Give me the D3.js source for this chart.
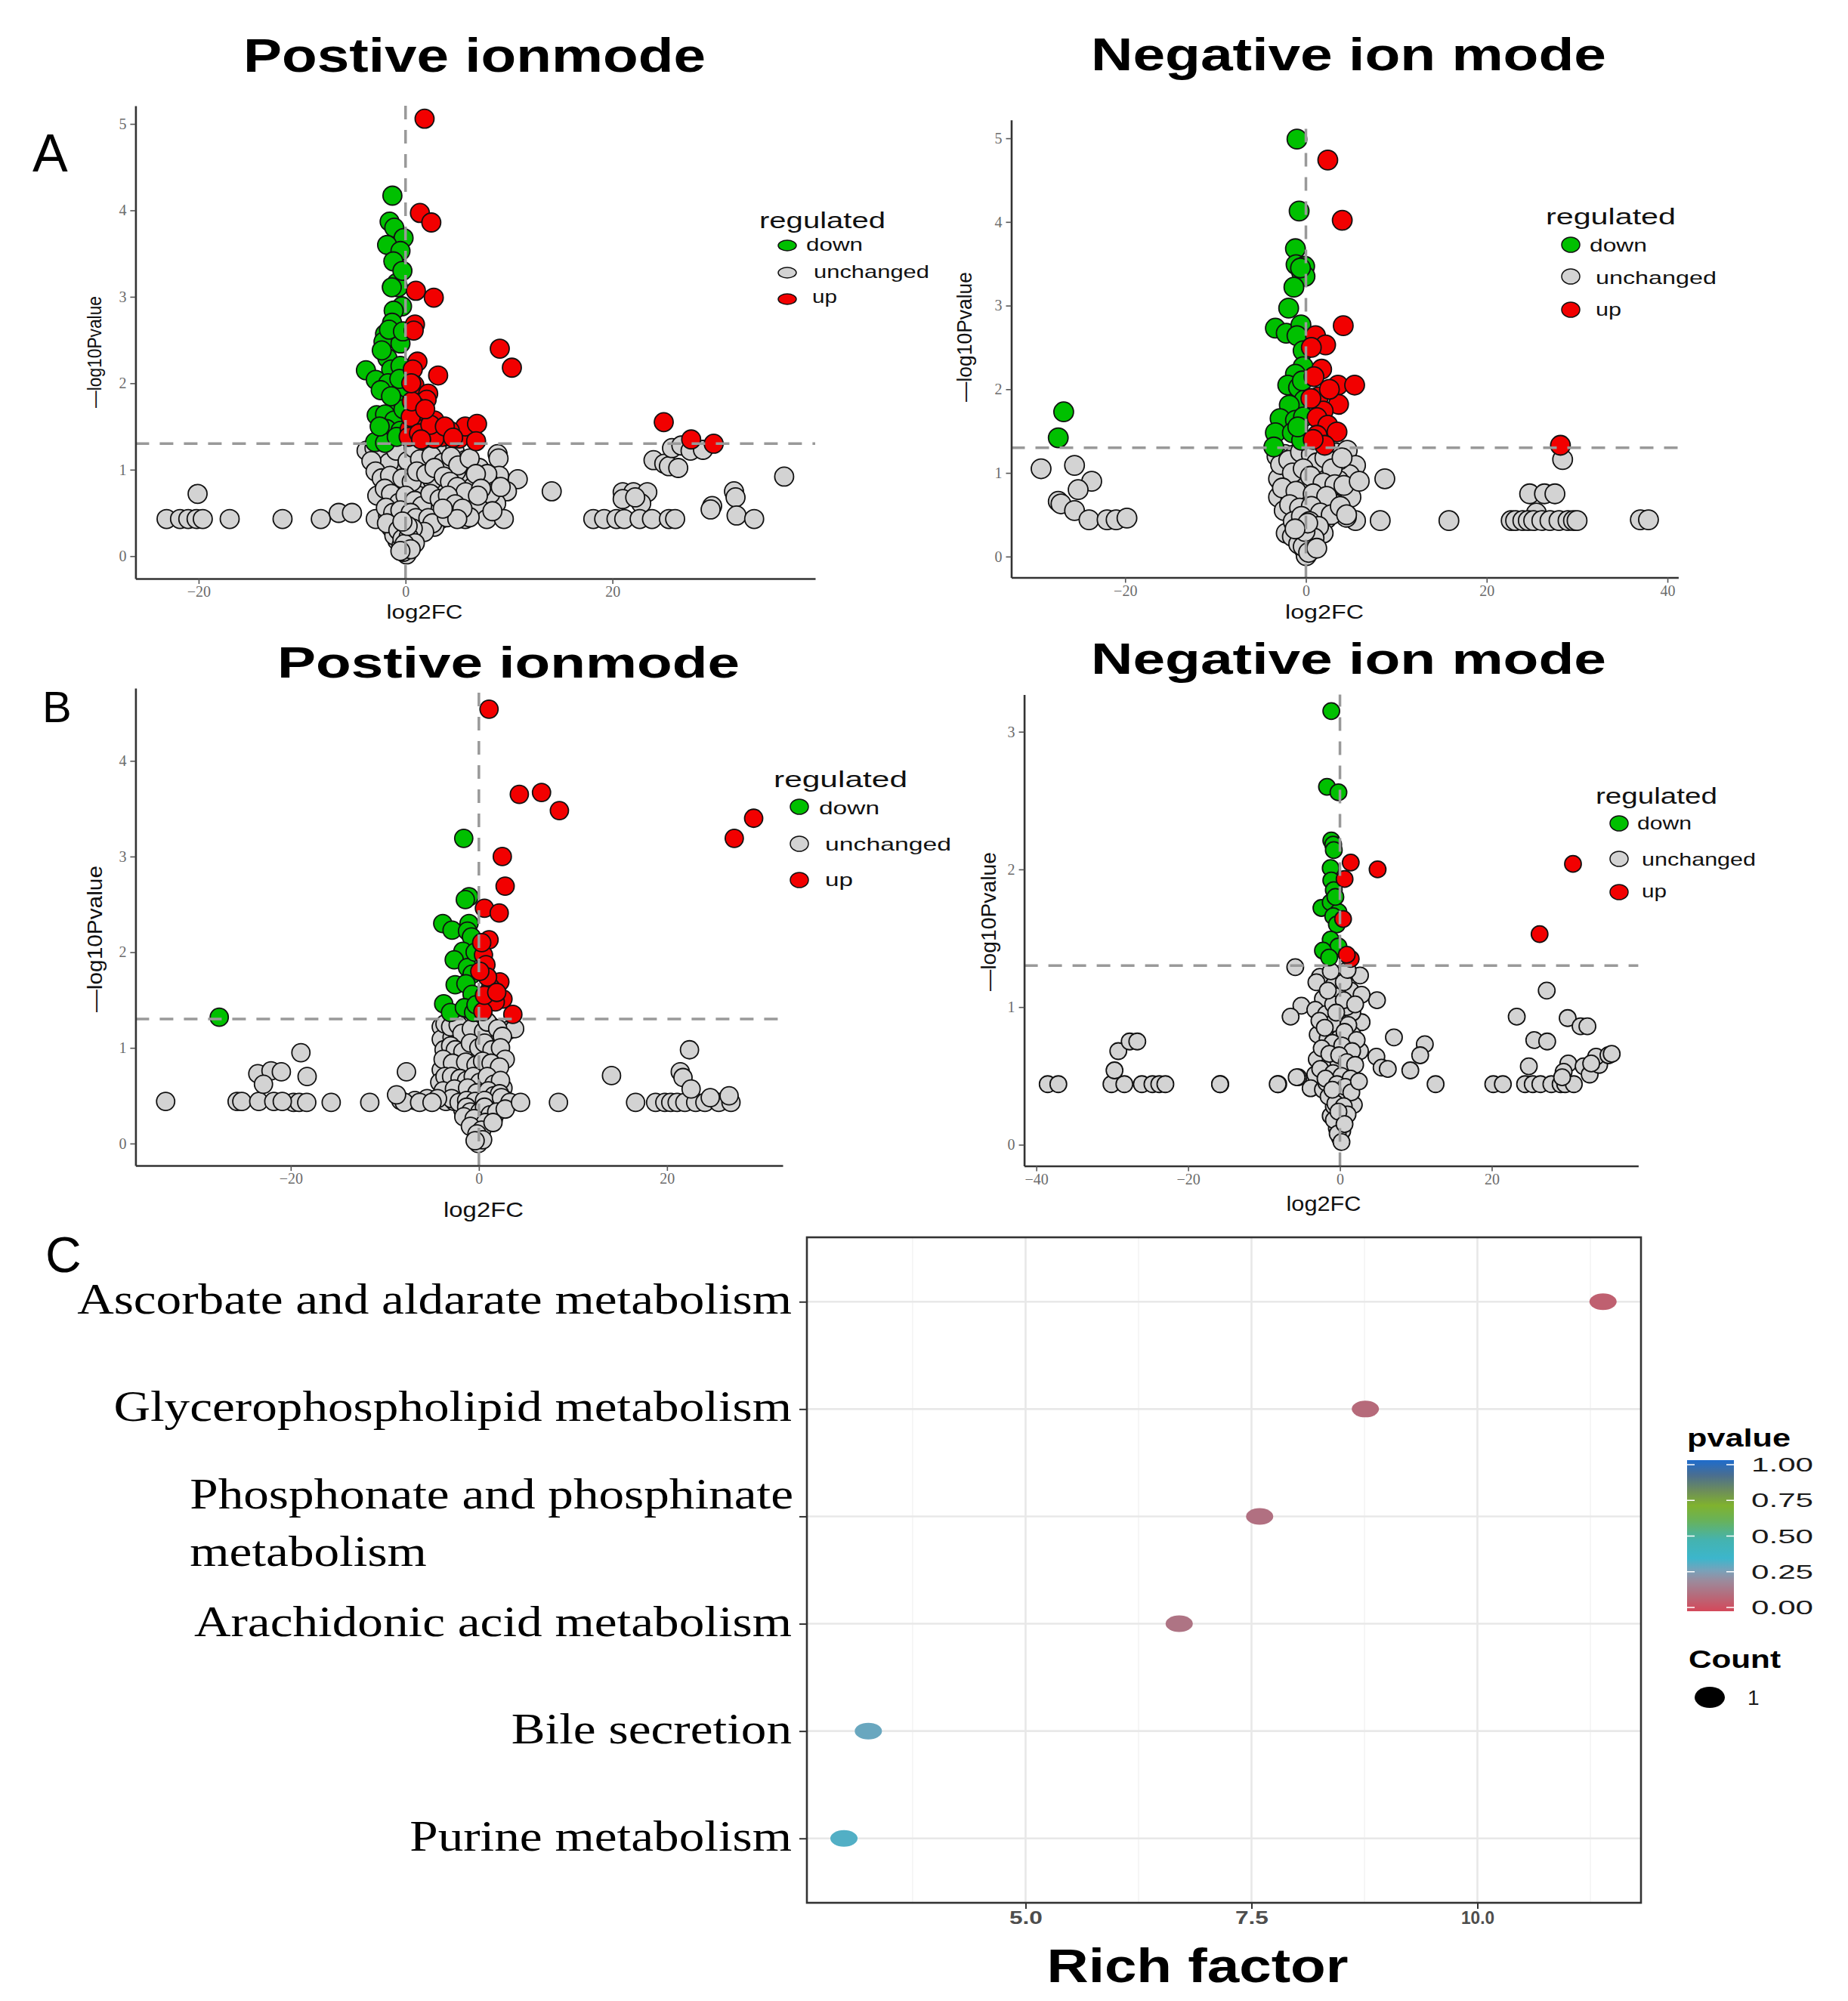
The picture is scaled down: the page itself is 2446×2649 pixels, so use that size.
<!DOCTYPE html>
<html>
<head>
<meta charset="utf-8">
<script src="https://cdn.jsdelivr.net/npm/d3@7"></script>
<style>
  body { margin: 0; background: #fff; }
</style>
</head>
<body>
<div id="chart"></div>
<script>
// ---- A, positive ion mode: [log2FC, -log10Pvalue]
const upPosA = [
  [1.84,5.06],[1.39,3.97],[2.49,3.86],[1.0,3.07],[2.73,2.99],[0.91,2.68],[0.79,2.61],[9.11,2.40],[10.28,2.18],
  [1.15,2.25],[3.15,2.09],[0.70,2.16],[0.85,1.98],[2.19,1.88],[2.04,1.81],[1.0,1.73],[0.94,1.64],[2.79,1.57],
  [1.6,1.61],[0.4,1.47],[1.74,1.47],[3.54,1.38],[5.18,1.36],[5.77,1.50],[6.91,1.53],[6.82,1.33],[4.28,1.45],
  [2.79,1.36],[24.96,1.55],[27.61,1.35],[29.79,1.30],[0.5,1.61],[0.6,1.79],[0.3,1.38],[1.3,1.42],[2.4,1.52],
  [3.8,1.50],[4.6,1.37],[1.9,1.70],[0.55,2.0],[1.5,1.35]
];
const downPosA = [
  [-1.27,4.17],[-1.54,3.87],[-1.09,3.80],[-0.19,3.68],[-1.78,3.60],[-0.49,3.53],[-1.18,3.41],[-0.85,3.16],
  [-0.73,3.11],[-1.33,3.11],[-0.34,2.89],[-1.15,2.84],[-1.30,2.70],[-1.98,2.57],[-2.13,2.48],[-0.49,2.46],
  [-1.75,2.29],[-3.83,2.15],[-1.39,2.16],[-0.49,2.20],[-2.88,2.04],[-1.69,2.00],[-0.55,1.89],[-0.94,1.77],
  [-2.79,1.63],[-1.98,1.64],[-1.09,1.57],[-1.84,1.47],[-0.49,1.45],[-2.94,1.32],[-1.98,1.31],[-0.85,1.38],
  [-2.4,1.92],[-0.2,1.70],[-1.6,2.62],[-2.3,2.38],[-0.3,3.30],[-0.6,2.05],[-1.4,1.85],[-2.5,1.50],[-0.25,2.6]
];
const unchPosA = [
  [-3.77,1.22],[-2.58,1.15],[-1.09,1.15],[0.40,1.18],[1.89,1.22],[3.39,1.20],[4.73,1.22],[5.77,1.11],[7.11,1.02],
  [8.90,1.18],[8.99,1.13],[2.19,1.07],[4.13,1.06],[-1.98,1.02],[0.10,0.97],[1.60,0.93],[3.09,0.97],[5.77,0.88],
  [9.05,0.93],[10.85,0.89],[8.16,0.84],[9.80,0.75],[7.56,0.66],[8.76,0.61],[14.13,0.75],[-1.09,0.86],[0.40,0.79],
  [1.89,0.77],[3.39,0.82],[4.73,0.79],[-2.73,0.70],[-0.79,0.65],[0.70,0.58],[2.19,0.63],[3.99,0.61],[6.37,0.61],
  [6.97,0.58],[-2.88,0.43],[-1.69,0.47],[-0.04,0.49],[1.60,0.47],[3.39,0.43],[5.77,0.43],[7.86,0.43],[9.50,0.43],
  [-1.39,0.33],[-0.19,0.29],[1.30,0.33],[2.79,0.34],[-0.79,0.18],[0.40,0.18],[-0.19,0.08],[0.10,0.02],[-0.49,0.22],
  [1.0,0.24],[-1.09,0.24],[-0.5,1.25],[0.9,1.05],[-0.6,0.95],[2.6,0.88],[4.9,0.98],[6.5,0.80],[1.2,0.70],
  [-0.3,0.75],[2.9,0.52],[4.5,0.52],[0.3,0.40],[-0.9,0.40],[0.6,0.12],[-0.4,0.12],[6.2,0.45],[8.2,0.72],
  [5.3,0.68],[-3.0,1.25],[3.0,1.25],[7.9,0.95],[-0.2,0.05],[0.25,0.28],
  [-2.2,1.20],[-1.6,1.08],[-0.9,1.22],[0.2,1.10],[0.8,1.25],[1.4,1.12],[2.5,1.16],[3.6,1.08],[4.4,1.15],
  [5.1,1.05],[6.2,1.13],[6.8,0.95],[-3.3,1.10],[-2.9,0.98],[-2.3,0.90],[-1.5,0.93],[-0.3,0.90],[0.6,0.86],
  [1.1,0.98],[2.0,0.95],[2.8,1.02],[3.7,0.92],[4.3,0.86],[5.0,0.80],[5.8,0.74],[7.3,0.78],[-2.0,0.78],
  [-1.4,0.72],[-0.6,0.62],[0.0,0.70],[0.9,0.64],[1.6,0.58],[2.4,0.72],[3.3,0.66],[4.1,0.70],[4.8,0.60],
  [5.5,0.55],[-1.9,0.56],[-1.2,0.50],[-0.5,0.53],[0.5,0.50],[1.0,0.44],[2.2,0.44],[2.6,0.38],[1.8,0.28],
  [-1.8,0.38],[-0.7,0.30],[0.7,0.32],[-0.3,0.20],[0.3,0.22],[0.9,0.15],[-0.1,0.14],[0.5,0.08],[-0.5,0.06],
  [0.2,0.35],[-0.3,0.40],[4.0,0.45],[5.0,0.43],[7.0,0.70],[8.4,0.52],[9.2,0.80],[3.6,0.55],
  [-11.89,0.43],[-8.19,0.43],[-6.46,0.50],[-5.18,0.50],[-23.1,0.43],[-21.8,0.43],[-21.0,0.43],[-20.2,0.43],
  [-19.6,0.43],[-20.1,0.72],[-17.0,0.43],
  [23.97,1.11],[25.01,1.07],[25.46,1.04],[26.36,1.02],[25.76,1.25],[26.66,1.28],[27.55,1.22],[28.75,1.23],
  [20.99,0.74],[22.03,0.74],[23.37,0.74],[20.99,0.66],[22.78,0.61],[22.2,0.68],[18.15,0.43],[19.2,0.43],
  [20.39,0.43],[21.14,0.43],[22.63,0.43],[23.82,0.43],[25.46,0.43],[26.06,0.43],[29.64,0.58],[29.49,0.54],
  [31.75,0.75],[31.9,0.68],[32.0,0.47],[33.7,0.43],[36.6,0.92]
];

// ---- A, negative ion mode
const upNegA = [
  [2.42,4.74],[4.02,4.02],[4.13,2.76],[1.06,2.64],[2.18,2.53],[1.74,2.24],[0.89,2.15],[3.55,2.05],[5.39,2.05],
  [1.4,1.91],[3.61,1.82],[1.91,1.74],[1.23,1.66],[2.42,1.57],[3.44,1.49],[1.23,1.45],[2.08,1.33],[28.16,1.33],
  [0.55,1.89],[0.6,2.5],[2.6,2.0],[0.8,1.40]
];
const downNegA = [
  [-0.99,4.99],[-0.75,4.13],[-1.16,3.68],[-1.09,3.49],[-0.14,3.47],[-0.48,3.40],[-0.1,3.35],[-1.33,3.22],
  [-1.91,2.97],[-3.38,2.73],[-2.18,2.67],[-0.55,2.77],[-0.99,2.64],[-0.31,2.46],[-0.31,2.27],[-1.16,2.18],
  [-2.01,2.05],[-0.82,2.02],[-0.2,1.87],[-1.84,1.81],[-2.86,1.65],[-1.16,1.63],[-0.27,1.67],[-3.38,1.48],
  [-1.5,1.48],[-0.48,1.39],[-3.55,1.31],[-26.8,1.73],[-27.4,1.42],[-0.6,3.45],[-0.9,1.55],[-0.4,2.1]
];
const unchNegA = [
  [28.4,1.16],[8.73,0.93],[24.75,0.75],[26.39,0.75],[27.55,0.75],[25.5,0.52],[22.71,0.43],[23.2,0.43],[24,0.43],
  [24.6,0.43],[25.2,0.43],[26.1,0.43],[27,0.43],[28,0.43],[29,0.43],[29.6,0.43],[30,0.43],[15.82,0.43],
  [8.22,0.43],[5.49,0.43],[4.47,0.47],[37.0,0.44],[37.9,0.44],
  [-29.3,1.05],[-25.6,1.09],[-23.7,0.90],[-25.2,0.80],[-27.4,0.66],[-27.1,0.63],[-25.6,0.55],[-24.0,0.44],
  [-22.0,0.44],[-21.0,0.44],[-19.8,0.46],
  [-2.35,1.22],[-1.16,1.22],[0.2,1.19],[1.74,1.22],[3.27,1.24],[4.57,1.27],[5.49,1.09],[4.81,0.98],[3.61,1.15],
  [-2.18,1.02],[-3.03,0.93],[-0.82,0.98],[0.89,0.91],[2.42,0.96],[3.61,0.91],[-1.84,0.85],[-0.14,0.78],
  [1.57,0.82],[2.93,0.80],[-3.03,0.71],[-1.67,0.67],[0.2,0.63],[3.1,0.63],[4.98,0.71],[-1.16,0.52],[0.03,0.56],
  [1.23,0.49],[2.25,0.45],[-2.18,0.28],[-0.99,0.30],[0.72,0.30],[1.91,0.28],[-0.48,0.19],[0.55,0.19],
  [-0.14,0.08],[0.03,0.01],[-0.82,0.39],[0.89,0.39],[-0.5,1.10],[1.0,1.05],[-1.4,0.60],[1.6,0.62],[-0.3,0.45],
  [0.4,0.70],[-0.6,0.85],[0.2,0.12],[-0.2,0.25],[2.6,1.12],
  [-3.2,1.20],[-2.8,1.10],[-1.9,1.15],[-0.6,1.25],[0.6,1.22],[1.2,1.12],[2.1,1.18],[2.9,1.05],[4.0,1.18],
  [-1.5,1.00],[-0.3,1.05],[0.5,0.96],[1.9,0.88],[3.2,0.86],[4.2,0.85],[-2.6,0.82],[-1.1,0.78],[0.8,0.75],
  [2.3,0.72],[-2.4,0.55],[-1.8,0.62],[-0.7,0.58],[0.6,0.60],[1.6,0.52],[2.8,0.50],[-1.4,0.42],[-0.5,0.48],
  [0.4,0.42],[1.4,0.36],[-1.5,0.24],[-0.8,0.15],[0.9,0.22],[-0.3,0.12],[0.3,0.05],[-0.1,0.30],[0.2,0.40],
  [1.2,0.10],[-1.2,0.33],[3.8,0.60],[5.9,0.90],[4.5,0.50]
];

// ---- B, positive ion mode
const upPosB = [
  [1.08,4.54],[4.30,3.65],[6.66,3.67],[8.56,3.48],[27.15,3.19],[29.21,3.40],[2.49,3.00],[2.79,2.69],[0.59,2.46],
  [2.16,2.41],[1.08,2.13],[0.49,1.97],[0.75,1.87],[2.23,1.69],[1.25,1.63],[0.92,1.74],[2.56,1.51],[1.74,1.48],
  [0.43,1.38],[3.61,1.35],[0.59,1.55],[0.1,1.80],[1.9,1.58],[0.3,2.1]
];
const downPosB = [
  [-1.61,3.19],[-1.05,2.58],[-1.44,2.55],[-3.84,2.30],[-2.85,2.23],[-1.05,2.30],[-1.21,2.22],[-0.79,2.16],
  [-1.70,2.01],[-2.62,1.92],[-1.21,1.84],[-0.72,1.77],[-2.52,1.66],[-1.38,1.67],[-0.72,1.56],[-3.74,1.46],
  [-3.02,1.37],[-1.54,1.42],[-0.56,1.37],[-27.6,1.32],[-0.4,2.0],[-0.3,1.45]
];
const unchPosB = [
  [-4.0,1.22],[-2.69,1.19],[-1.38,1.22],[-0.07,1.24],[1.25,1.23],[3.05,1.18],[-4.0,1.09],[-2.85,1.11],
  [-1.44,1.03],[-0.39,1.13],[0.92,1.01],[1.90,1.09],[-3.34,0.93],[-2.03,0.90],[-0.72,0.87],[0.59,0.92],
  [1.74,0.90],[-4.0,0.77],[-2.52,0.74],[-1.05,0.77],[0.26,0.72],[1.57,0.77],[2.56,0.58],[-4.16,0.64],
  [-3.02,0.61],[-1.87,0.63],[-0.56,0.61],[0.59,0.63],[2.07,0.68],[-3.34,0.51],[-2.03,0.51],[-0.72,0.48],
  [0.43,0.51],[1.90,0.47],[-1.70,0.35],[-0.39,0.37],[0.92,0.35],[2.56,0.39],[-1.05,0.26],[0.26,0.26],
  [1.57,0.27],[-0.39,0.16],[0.10,0.06],[-0.07,0.0],[-0.72,0.21],[-1.2,1.15],[0.3,1.08],[-2.2,0.82],[1.0,0.82],
  [-3.5,0.44],[2.9,0.45],[0.0,0.55],[-0.2,0.95],[-1.6,0.55],[1.2,0.42],[-2.6,0.44],[3.8,1.2],
  [-3.6,1.25],[-3.0,1.22],[-2.2,1.24],[-1.8,1.15],[-0.8,1.20],[0.5,1.17],[0.9,1.27],[2.0,1.20],[2.5,1.12],
  [-3.7,0.98],[-3.0,1.02],[-2.5,0.98],[-1.7,0.96],[-0.9,1.05],[0.0,1.00],[0.6,1.05],[1.4,0.98],[2.3,1.00],
  [2.8,0.88],[-3.8,0.88],[-2.8,0.84],[-1.4,0.85],[-0.3,0.82],[0.4,0.86],[1.3,0.84],[2.2,0.80],[-3.6,0.70],
  [-2.9,0.70],[-2.0,0.68],[-1.3,0.66],[-0.6,0.70],[0.1,0.64],[0.9,0.70],[1.6,0.62],[2.3,0.66],[-3.8,0.55],
  [-2.6,0.57],[-1.2,0.58],[-0.2,0.53],[1.0,0.55],[1.6,0.50],[2.2,0.52],[-2.9,0.47],[-2.1,0.43],[-1.3,0.45],
  [-0.4,0.44],[0.6,0.45],[2.4,0.48],[-1.3,0.38],[-0.9,0.33],[0.1,0.33],[0.6,0.38],[1.2,0.30],[-1.6,0.28],
  [-0.5,0.26],[0.7,0.22],[1.9,0.33],[-0.9,0.18],[0.3,0.14],[-0.2,0.10],[0.4,0.04],[-0.4,0.03],[-5.5,0.47],
  [-6.8,0.45],[-4.4,0.47],[-8.3,0.45],[3.3,0.43],[2.8,0.36],[1.5,0.22],
  [-19.7,0.43],[-19.1,0.43],[-18.3,0.43],[-15.7,0.43],[-11.6,0.43],[-7.93,0.43],[-6.30,0.43],[-4.98,0.43],
  [4.43,0.43],[8.46,0.43],[16.66,0.43],[18.79,0.43],[19.77,0.43],[20.4,0.43],[21.08,0.43],[21.9,0.43],
  [23.05,0.43],[24.03,0.43],[25.5,0.43],[26.8,0.43],
  [-8.75,0.51],[-7.7,0.75],[14.1,0.71],[22.39,0.98],[21.41,0.75],[21.7,0.69],[22.56,0.57],[24.6,0.48],
  [26.6,0.50],[-18.92,0.95],[-18.26,0.70],[-33.3,0.44],[-25.7,0.44],[-25.2,0.44],[-23.4,0.44],[-21.8,0.44],
  [-20.9,0.44],[-23.5,0.73],[-22.1,0.76],[-21.0,0.75],[-22.9,0.62]
];

// ---- B, negative ion mode
const upNegB = [
  [1.42,2.05],[4.96,2.0],[0.61,1.93],[0.41,1.64],[1.42,1.35],[30.7,2.04],[26.3,1.53],[0.9,1.38]
];
const downNegB = [
  [-1.14,3.15],[-1.71,2.60],[-0.20,2.56],[-1.14,2.21],[-0.89,2.18],[-0.81,2.14],[-1.22,2.01],[-1.14,1.92],
  [-0.81,1.85],[-2.44,1.72],[-1.22,1.76],[-0.2,1.69],[-0.89,1.66],[-0.41,1.60],[-1.22,1.49],[-0.2,1.44],
  [-2.24,1.41],[-1.42,1.36],[-0.6,1.80]
];
const unchNegB = [
  [-5.89,1.29],[-2.64,1.22],[0,1.24],[2.64,1.23],[-0.81,1.16],[1.42,1.12],[-0.2,1.08],[4.88,1.05],[2.85,1.09],
  [-2.24,1.06],[-5.08,1.01],[-6.5,0.93],[-3.25,0.98],[-1.83,0.95],[0.2,0.91],[2.85,0.89],[1.63,0.96],
  [-2.93,0.80],[-1.63,0.77],[0,0.78],[1.63,0.80],[7.11,0.78],[11.18,0.73],[10.57,0.65],[2.64,0.68],[4.8,0.64],
  [5.49,0.56],[6.3,0.55],[9.27,0.54],[-3.05,0.62],[-1.63,0.57],[-0.2,0.60],[1.22,0.57],[-3.25,0.51],
  [-5.49,0.49],[-3.86,0.41],[-2.24,0.40],[-0.81,0.41],[0.81,0.39],[0,0.32],[1.83,0.29],[-1.22,0.21],[0,0.19],
  [-0.41,0.12],[0,0.05],[-0.81,0.28],[-8.13,0.44],[-15.77,0.44],[12.6,0.44],[20.2,0.44],[21.46,0.44],
  [24.39,0.44],[25.4,0.44],[26.4,0.44],[27.85,0.44],[29.07,0.44],[29.67,0.44],[30.81,0.44],[27.24,1.12],
  [23.29,0.93],[30.0,0.92],[31.7,0.86],[32.6,0.86],[25.6,0.76],[27.3,0.75],[24.88,0.57],[30.08,0.59],
  [29.47,0.53],[29.27,0.49],[32.1,0.57],[32.9,0.51],[34.15,0.58],[33.74,0.64],[35.37,0.65],[35.8,0.66],
  [33.1,0.59],[-38.5,0.44],[-37.1,0.44],[-30.1,0.44],[-28.4,0.44],[-26.1,0.44],[-24.7,0.44],[-23.8,0.44],
  [-23.0,0.44],[-29.2,0.68],[-27.7,0.75],[-26.7,0.75],[-29.7,0.54],[-15.8,0.44],[-8.2,0.44],[-5.7,0.49],
  [-0.5,0.70],[0.6,0.48],[-1.0,0.88],[0.9,1.0],[-0.3,0.35],[0.4,0.15],[-1.8,0.45],[1.1,0.65],[-0.9,1.02],
  [0.5,1.18],
  [-1.2,1.26],[1.0,1.27],[-3.1,1.18],[-1.6,1.12],[0.5,1.05],[2.0,1.02],[-2.7,0.90],[-0.5,0.96],[1.1,0.87],
  [-2.0,0.85],[0.6,0.82],[2.2,0.76],[-1.0,0.74],[0.3,0.72],[1.6,0.68],[-2.4,0.70],[-1.4,0.66],[-0.1,0.65],
  [0.9,0.60],[2.0,0.58],[-2.6,0.55],[-0.9,0.52],[0.2,0.50],[1.4,0.48],[-1.9,0.48],[-0.4,0.44],[0.7,0.42],
  [1.5,0.38],[-1.5,0.35],[-0.6,0.30],[0.5,0.28],[1.0,0.22],[-0.8,0.18],[0.3,0.10],[-0.3,0.08],[0.2,0.02],
  [-0.2,0.24],[0.6,0.15],[-1.0,0.40],[2.5,0.46]
];

// ---- C, pathway enrichment
const pathways = [
  "Ascorbate and aldarate metabolism",
  "Glycerophospholipid metabolism",
  "Phosphonate and phosphinate metabolism",
  "Arachidonic acid metabolism",
  "Bile secretion",
  "Purine metabolism"
];
const richFactor = [11.39, 8.76, 7.59, 6.70, 3.26, 2.99];
const pathwayP = [0.07, 0.10, 0.12, 0.13, 0.29, 0.32];
const pathwayCount = [1, 1, 1, 1, 1, 1];
const richTicks = [5, 7.5, 10];
const pTicks = [0, 0.25, 0.5, 0.75, 1];
const pStops = [0, 0.1, 0.2, 0.27, 0.35, 0.47, 0.6, 0.7, 0.8, 0.9, 1];
const pColours = ["#d4485a", "#b66a7a", "#9c8a9c", "#78a2ba", "#3cb6cc", "#44b3b0",
                  "#68b25a", "#80b22e", "#6c8c5c", "#4a6e90", "#1e6ccc"];

const regLabels = ["down", "unchanged", "up"];
const regColours = { down: "#00c000", unchanged: "#d3d3d3", up: "#f20000" };

const SANS = "'Liberation Sans', Arial, Helvetica, sans-serif";
const SERIF = "'Liberation Serif', 'Times New Roman', serif";

function fitText(g, txt, x, y, size, len) {
  let t = g.append("text")
    .attr("x", x).attr("y", y)
    .attr("font-size", size)
    .text(txt);
  if (len) {
    t.attr("textLength", len).attr("lengthAdjust", "spacingAndGlyphs");
  }
  return t;
}

function volcano(svg, p) {
  let x = d3.scaleLinear().domain(p.xDomain).range([p.left, p.right]);
  let y = d3.scaleLinear().domain(p.yDomain).range([p.bottom, p.top]);
  let g = svg.append("g").attr("font-family", SANS);

  let sets = [["unchanged", p.unchanged], ["down", p.down], ["up", p.up]];
  sets.forEach(function (s) {
    g.append("g").selectAll("circle")
      .data(s[1])
      .enter()
      .append("circle")
      .attr("cx", d => x(d[0]))
      .attr("cy", d => y(d[1]))
      .attr("r", p.r)
      .attr("fill", regColours[s[0]])
      .attr("stroke", "#111")
      .attr("stroke-width", 1.8);
  });

  // threshold lines, drawn over the points
  g.append("line")
    .attr("x1", p.left).attr("x2", p.right)
    .attr("y1", y(-Math.log10(0.05))).attr("y2", y(-Math.log10(0.05)))
    .attr("stroke", "#999").attr("stroke-width", 3.5).attr("stroke-dasharray", "18,14");
  g.append("line")
    .attr("x1", x(0)).attr("x2", x(0))
    .attr("y1", p.bottom).attr("y2", p.top)
    .attr("stroke", "#999").attr("stroke-width", 3.5).attr("stroke-dasharray", "18,14");

  let fmt = d => (d < 0 ? "\u2212" + Math.abs(d) : String(d));
  let xAxis = g.append("g")
    .attr("transform", "translate(0," + p.bottom + ")")
    .call(d3.axisBottom(x).tickValues(p.xTicks).tickFormat(fmt).tickSize(7).tickSizeOuter(0).tickPadding(3));
  let yAxis = g.append("g")
    .attr("transform", "translate(" + p.left + ",0)")
    .call(d3.axisLeft(y).tickValues(p.yTicks).tickFormat(d3.format("d")).tickSize(7).tickSizeOuter(0).tickPadding(5));
  [xAxis, yAxis].forEach(function (a) {
    a.select(".domain").attr("stroke", "#333").attr("stroke-width", 2.6);
    a.selectAll(".tick line").attr("stroke", "#555").attr("stroke-width", 1.6);
    a.selectAll(".tick text")
      .attr("font-family", SERIF)
      .attr("font-size", 20)
      .attr("fill", "#6b6b6b");
  });

  fitText(g, p.title, p.titleX, p.titleY, p.titleSize, p.titleLen)
    .attr("text-anchor", "middle").attr("font-weight", "bold").attr("fill", "#000");
  fitText(g, "log2FC", p.xlab[0], p.xlab[1], p.xlab[2], p.xlab[3])
    .attr("text-anchor", "middle").attr("fill", "#111");
  fitText(g, "\u2014log10Pvalue", 0, 0, p.ylab[2], p.ylab[3])
    .attr("text-anchor", "middle").attr("fill", "#111")
    .attr("transform", "translate(" + p.ylab[0] + "," + p.ylab[1] + ") rotate(-90)");

  let lg = p.legend;
  fitText(g, "regulated", lg.x, lg.y, 30, lg.len).attr("fill", "#111");
  regLabels.forEach(function (name, i) {
    let it = lg.items[i];
    g.append("ellipse")
      .attr("cx", lg.kx).attr("cy", it[0])
      .attr("rx", 12).attr("ry", lg.ry)
      .attr("fill", regColours[name]).attr("stroke", "#111").attr("stroke-width", 1.5);
    fitText(g, name, it[1], it[2], 24, it[3]).attr("fill", "#111");
  });

  if (p.letter) {
    g.append("text")
      .attr("x", p.letter[0]).attr("y", p.letter[1])
      .attr("font-size", p.letter[2])
      .attr("fill", "#000")
      .text(p.letter[3]);
  }
}

function enrichment(svg) {
  const L = 1068, R = 2172, T = 1638, B = 2519;
  let g = svg.append("g").attr("font-family", SANS);
  let x = d3.scaleLinear().domain([2.58, 11.81]).range([L, R]);
  let y = d3.scalePoint().domain(pathways).range([T, B]).padding(0.6);
  let colour = d3.scaleLinear().domain(pStops).range(pColours);

  // grid
  let minor = [3.75, 6.25, 8.75, 11.25];
  g.selectAll(".minor").data(minor).enter().append("line")
    .attr("x1", d => x(d)).attr("x2", d => x(d)).attr("y1", T).attr("y2", B)
    .attr("stroke", "#f2f2f2").attr("stroke-width", 1.4);
  g.selectAll(".major").data(richTicks).enter().append("line")
    .attr("x1", d => x(d)).attr("x2", d => x(d)).attr("y1", T).attr("y2", B)
    .attr("stroke", "#e8e8e8").attr("stroke-width", 2.6);
  g.selectAll(".hgrid").data(pathways).enter().append("line")
    .attr("x1", L).attr("x2", R).attr("y1", d => y(d)).attr("y2", d => y(d))
    .attr("stroke", "#e8e8e8").attr("stroke-width", 2.6);

  g.selectAll(".dot").data(pathways).enter().append("ellipse")
    .attr("cx", (d, i) => x(richFactor[i]))
    .attr("cy", d => y(d))
    .attr("rx", 18).attr("ry", 11)
    .attr("fill", (d, i) => colour(pathwayP[i]));

  g.append("rect")
    .attr("x", L).attr("y", T).attr("width", R - L).attr("height", B - T)
    .attr("fill", "none").attr("stroke", "#333").attr("stroke-width", 2.6);

  let xAxis = g.append("g")
    .attr("transform", "translate(0," + B + ")")
    .call(d3.axisBottom(x).tickValues(richTicks).tickFormat(d3.format(".1f"))
      .tickSize(8).tickSizeOuter(0).tickPadding(3));
  xAxis.select(".domain").remove();
  xAxis.selectAll(".tick line").attr("stroke", "#333").attr("stroke-width", 2);
  xAxis.selectAll(".tick text")
    .attr("font-family", SANS).attr("font-size", 24).attr("font-weight", "bold").attr("fill", "#4d4d4d")
    .attr("textLength", 44).attr("lengthAdjust", "spacingAndGlyphs");

  let yAxis = g.append("g")
    .attr("transform", "translate(" + L + ",0)")
    .call(d3.axisLeft(y).tickSize(10).tickSizeOuter(0).tickFormat(""));
  yAxis.select(".domain").remove();
  yAxis.selectAll(".tick line").attr("stroke", "#333").attr("stroke-width", 2);

  // pathway names, serif, slightly widened like the figure
  const sx = 1.2;
  pathways.forEach(function (name) {
    let yy = y(name);
    if (name.indexOf("Phosphonate") === 0) {
      let first = "Phosphonate and phosphinate";
      let t1 = g.append("text")
        .attr("font-family", SERIF).attr("font-size", 56).attr("fill", "#000")
        .attr("text-anchor", "end")
        .attr("transform", "translate(1050," + (yy - 10) + ") scale(" + sx + ",1)")
        .text(first);
      let w = t1.node().getComputedTextLength() * sx;
      g.append("text")
        .attr("font-family", SERIF).attr("font-size", 56).attr("fill", "#000")
        .attr("transform", "translate(" + (1050 - w) + "," + (yy + 66) + ") scale(" + sx + ",1)")
        .text("metabolism");
    } else {
      g.append("text")
        .attr("font-family", SERIF).attr("font-size", 56).attr("fill", "#000")
        .attr("text-anchor", "end")
        .attr("transform", "translate(1048," + (yy + 16) + ") scale(" + sx + ",1)")
        .text(name);
    }
  });

  fitText(g, "Rich factor", 1585, 2624, 63, 399)
    .attr("text-anchor", "middle").attr("font-weight", "bold").attr("fill", "#000");

  // colour bar legend
  let defs = svg.append("defs");
  let grad = defs.append("linearGradient")
    .attr("id", "pgrad").attr("x1", 0).attr("y1", 1).attr("x2", 0).attr("y2", 0);
  pStops.forEach(function (s, i) {
    grad.append("stop").attr("offset", s).attr("stop-color", pColours[i]);
  });
  let cb = d3.scaleLinear().domain([0, 1]).range([2128, 1939]);
  fitText(g, "pvalue", 2233, 1915, 34, 137).attr("font-weight", "bold").attr("fill", "#000");
  g.append("rect")
    .attr("x", 2233).attr("y", 1933).attr("width", 62).attr("height", 200)
    .attr("fill", "url(#pgrad)");
  pTicks.forEach(function (v) {
    g.append("line").attr("x1", 2233).attr("x2", 2243).attr("y1", cb(v)).attr("y2", cb(v))
      .attr("stroke", "#fff").attr("stroke-width", 1.5);
    g.append("line").attr("x1", 2285).attr("x2", 2295).attr("y1", cb(v)).attr("y2", cb(v))
      .attr("stroke", "#fff").attr("stroke-width", 1.5);
    fitText(g, d3.format(".2f")(v), 2318, cb(v) + 9, 26, 82).attr("fill", "#1a1a1a");
  });

  fitText(g, "Count", 2235, 2208, 34, 122).attr("font-weight", "bold").attr("fill", "#000");
  g.append("ellipse").attr("cx", 2263).attr("cy", 2247).attr("rx", 20).attr("ry", 14).attr("fill", "#000");
  fitText(g, String(pathwayCount[0]), 2313, 2257, 28).attr("fill", "#1a1a1a");

  g.append("text").attr("x", 60).attr("y", 1684).attr("font-size", 66).attr("fill", "#000").text("C");
}

function init() {
  let svg = d3.select("#chart").append("svg")
    .attr("width", 2446).attr("height", 2649)
    .attr("viewBox", "0 0 2446 2649");
  svg.append("rect").attr("width", 2446).attr("height", 2649).attr("fill", "#fff");

  let panels = [
    {
      title: "Postive ionmode", titleX: 628, titleY: 95, titleSize: 63, titleLen: 612,
      left: 179.4, right: 1079, top: 140, bottom: 766,
      xDomain: [-26.1, 39.6], yDomain: [-0.26, 5.21],
      xTicks: [-20, 0, 20], yTicks: [0, 1, 2, 3, 4, 5], r: 12.5,
      xlab: [562, 819, 25, 101], ylab: [134, 466, 25, 148],
      legend: { x: 1005, y: 302, len: 167, kx: 1042, ry: 7,
        items: [[325, 1067, 332, 75], [361, 1077, 368, 153], [396, 1075, 401, 33]] },
      letter: [43, 227, 70, "A"],
      up: upPosA, down: downPosA, unchanged: unchPosA
    },
    {
      title: "Negative ion mode", titleX: 1785, titleY: 93, titleSize: 62, titleLen: 682,
      left: 1338.5, right: 2221.4, top: 158.7, bottom: 764.5,
      xDomain: [-32.6, 41.2], yDomain: [-0.25, 5.22],
      xTicks: [-20, 0, 20, 40], yTicks: [0, 1, 2, 3, 4, 5], r: 13,
      xlab: [1753, 819, 26, 104], ylab: [1286, 446, 27, 172],
      legend: { x: 2046, y: 297, len: 172, kx: 2079, ry: 10,
        items: [[324, 2104, 333, 76], [366, 2112, 376, 160], [410, 2112, 418, 34]] },
      letter: null,
      up: upNegA, down: downNegA, unchanged: unchNegA
    },
    {
      title: "Postive ionmode", titleX: 673, titleY: 897, titleSize: 57, titleLen: 612,
      left: 179.4, right: 1036, top: 911, bottom: 1543,
      xDomain: [-36.5, 32.3], yDomain: [-0.23, 4.76],
      xTicks: [-20, 0, 20], yTicks: [0, 1, 2, 3, 4], r: 12,
      xlab: [640, 1611, 28, 106], ylab: [135, 1243, 28, 194],
      legend: { x: 1024, y: 1042, len: 177, kx: 1058, ry: 10,
        items: [[1068, 1084, 1078, 80], [1117, 1092, 1126, 167], [1165, 1092, 1173, 37]] },
      letter: [56, 956, 58, "B"],
      up: upPosB, down: downPosB, unchanged: unchPosB
    },
    {
      title: "Negative ion mode", titleX: 1785, titleY: 892, titleSize: 58, titleLen: 682,
      left: 1355.6, right: 2168.4, top: 919.5, bottom: 1543.5,
      xDomain: [-41.6, 39.3], yDomain: [-0.154, 3.27],
      xTicks: [-40, -20, 0, 20], yTicks: [0, 1, 2, 3], r: 11,
      xlab: [1752, 1603, 27, 99], ylab: [1318, 1220, 27, 184],
      legend: { x: 2112, y: 1064, len: 161, kx: 2143, ry: 10,
        items: [[1090, 2167, 1098, 72], [1137, 2173, 1146, 151], [1181, 2173, 1188, 33]] },
      letter: null,
      up: upNegB, down: downNegB, unchanged: unchNegB
    }
  ];

  panels.forEach(function (p) {
    volcano(svg, p);
  });
  enrichment(svg);
}

window.onload = init;
</script>
</body>
</html>
